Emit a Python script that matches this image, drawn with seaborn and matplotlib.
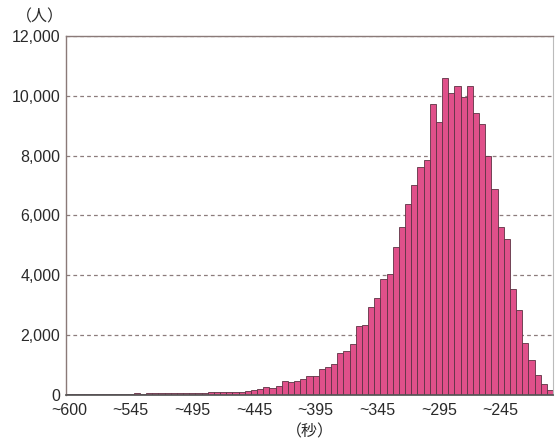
import pandas as pd
import matplotlib.pyplot as plt
import seaborn as sns

sns.set_theme(style="white")
plt.rcParams['font.family'] = ['Liberation Sans', 'DejaVu Sans']

# 5秒刻みの階級（左が遅い）
counts = [40, 30, 30, 35, 30, 35, 40, 35, 40, 45,
          45, 50, 45, 50, 55, 55, 60, 60, 65, 70,
          75, 75, 80, 85, 90, 95, 100, 105, 110, 145,
          170, 190, 255, 245, 310, 480, 430, 465, 520, 630,
          630, 855, 920, 1030, 1390, 1480, 1700, 2300, 2350, 2940,
          3250, 3870, 4050, 4940, 5610, 6390, 7020, 7630, 7860, 9740,
          9130, 10610, 10110, 10330, 9950, 10330, 9440, 9050, 7980, 6890,
          5610, 5200, 3550, 2830, 1740, 1170, 670, 370, 150]
bins = list(range(len(counts)))
tick_pos = [0, 10, 20, 30, 40, 50, 60, 70]
tick_labels = ['~600', '~545', '~495', '~445', '~395', '~345', '~295', '~245']
y_ticks = [0, 2000, 4000, 6000, 8000, 10000, 12000]

data = pd.DataFrame({'bin': bins, 'count': counts})

fig = plt.figure(figsize=(5.56, 4.44), dpi=100)
ax = fig.add_axes([0.1187, 0.1104, 0.876, 0.8085])

sns.barplot(data=data, x='bin', y='count', color='#E0508A', saturation=1,
            edgecolor='#5e3344', linewidth=0.6, width=1.0, ax=ax)

ax.set_xlim(-0.5, len(counts) - 0.5)
ax.set_ylim(0, 12000)
ax.set_xticks(tick_pos)
ax.set_xticklabels(tick_labels)
ax.set_yticks(y_ticks)
ax.set_yticklabels([f'{v:,}' for v in y_ticks])
ax.tick_params(axis='both', length=0, labelsize=11.5, colors='#2a2a2a')
ax.tick_params(axis='y', pad=4)
ax.tick_params(axis='x', pad=6)
ax.set_xlabel('')
ax.set_ylabel('')

ax.yaxis.grid(True, linestyle=(0, (3, 2.5)), color='#8c7c7c', linewidth=0.9)
ax.xaxis.grid(False)
ax.set_axisbelow(True)

for side in ['left', 'top']:
    ax.spines[side].set_color('#8a7a78')
    ax.spines[side].set_linewidth(1.0)
ax.spines['bottom'].set_color('#555555')
ax.spines['right'].set_color('#bbbbbb')
ax.spines['right'].set_linewidth(0.8)

fig.text(0.072, 0.962, '（人）', fontsize=11.5, color='#2a2a2a', ha='center', va='center',
         family=['Noto Sans CJK JP', 'DejaVu Sans'])
fig.text(0.557, 0.027, '（秒）', fontsize=11.5, color='#2a2a2a', ha='center', va='center',
         family=['Noto Sans CJK JP', 'DejaVu Sans'])

fig.savefig('out.png', dpi=100, facecolor='white')
